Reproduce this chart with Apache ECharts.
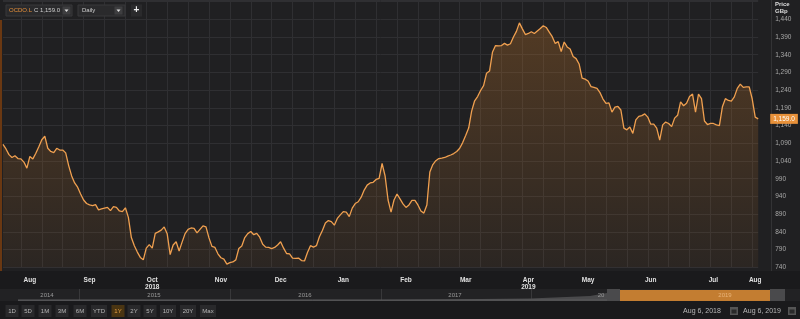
<!DOCTYPE html>
<html><head><meta charset="utf-8">
<script src="https://cdn.jsdelivr.net/npm/echarts@6/dist/echarts.min.js"></script>
<style>html,body{margin:0;padding:0;background:#202022;}#c{width:800px;height:319px;}</style>
</head><body><div id="c"></div>
<script>
// ---- data ----
const startDate = '2018-08-06';
const endDate = '2019-08-06';
const holidays = ['2018-08-27','2018-12-25','2018-12-26','2019-01-01','2019-04-19','2019-04-22','2019-05-06','2019-05-27'];
const prices = [
1087,1074,1058,1050,1055,1047,1046,1037,1020,1053,1046,1062,1080,1100,1110,1076,1067,1064,1076,1071,
1071,1063,1027,998,978,966,947,930,920,916,914,917,902,905,907,909,900,911,909,899,
897,908,881,824,801,783,768,761,794,804,794,836,840,845,854,835,776,803,812,786,
811,835,847,851,850,837,847,857,854,823,799,796,778,767,763,749,753,755,761,793,
800,824,835,841,832,836,825,805,797,796,793,796,803,812,794,779,778,766,765,766,
759,758,782,801,797,801,826,844,865,872,869,859,878,888,897,896,883,907,920,925,
938,958,972,978,980,988,991,1033,998,930,896,930,947,933,919,909,916,929,929,916,
899,893,916,1009,1030,1041,1047,1048,1050,1054,1057,1061,1067,1076,1092,1112,1133,1181,1210,1222,
1239,1253,1288,1294,1348,1366,1365,1366,1372,1367,1371,1390,1406,1430,1413,1397,1400,1405,1400,1407,
1414,1422,1417,1404,1391,1372,1377,1349,1376,1362,1356,1335,1329,1314,1274,1271,1266,1250,1248,1245,
1233,1215,1203,1204,1178,1192,1194,1184,1133,1128,1136,1118,1156,1166,1168,1173,1164,1144,1144,1133,
1099,1142,1150,1146,1137,1161,1169,1207,1196,1203,1222,1229,1178,1229,1216,1153,1143,1146,1146,1142,
1140,1193,1216,1211,1209,1221,1245,1257,1248,1249,1249,1215,1164,1159
];
const yMin = 740, yMax = 1440, yStep = 50;
const monthNames = ['Jan','Feb','Mar','Apr','May','Jun','Jul','Aug','Sep','Oct','Nov','Dec'];
const yearMarks = {'2018-10':'2018','2019-04':'2019'};
const navYears = ['2014','2015','2016','2017','20'];
const navYearX = [47,154,305,455,601];
const rangeButtons = ['1D','5D','1M','3M','6M','YTD','1Y','2Y','5Y','10Y','20Y','Max'];
const rangeButtonX = [12,28,45,62,80,99,118,134,150,168,188,208];
const symbolName = 'OCDO.L';
const lastClose = 1159.0;

// ---- trading-day categories ----
const categories = [];
(function(){
  const d = new Date(startDate + 'T00:00:00Z');
  const end = new Date(endDate + 'T00:00:00Z');
  while (d <= end) {
    const s = d.toISOString().slice(0,10);
    const wd = d.getUTCDay();
    if (wd !== 0 && wd !== 6 && holidays.indexOf(s) < 0) categories.push(s);
    d.setUTCDate(d.getUTCDate() + 1);
  }
})();
// month center labels
const labelAt = {};
(function(){
  let s = 0;
  for (let i = 1; i <= categories.length; i++) {
    if (i === categories.length || categories[i].slice(0,7) !== categories[s].slice(0,7)) {
      const ym = categories[s].slice(0,7);
      const c = Math.ceil((s + i - 1) / 2);
      let lab = monthNames[parseInt(ym.slice(5,7),10)-1];
      if (yearMarks[ym]) lab += '\n' + yearMarks[ym];
      labelAt[c] = lab;
      s = i;
    }
  }
})();

const fmt = v => Math.round(v).toString().replace(/\B(?=(\d{3})+(?!\d))/g, ',');
const fmt1 = v => v.toFixed(1).replace(/\B(?=(\d{3})+(?!\d))/g, ',');
const FONT = 'Liberation Sans, Arial, sans-serif';

const chart = echarts.init(document.getElementById('c'), null, {renderer:'canvas'});

const graphics = [];
// bottom bands
graphics.push({type:'rect', z:-5, silent:true, shape:{x:0,y:271,width:800,height:48}, style:{fill:'#1a1a1c'}});
graphics.push({type:'rect', z:-4, silent:true, shape:{x:0,y:289,width:800,height:12}, style:{fill:'#222224'}});
// left orange edge & right separator
graphics.push({type:'line', z:5, silent:true, shape:{x1:1,y1:20,x2:1,y2:271}, style:{stroke:'#6a3812', lineWidth:2}});
graphics.push({type:'line', z:1, silent:true, shape:{x1:771.5,y1:0,x2:771.5,y2:271}, style:{stroke:'#333335', lineWidth:1}});
// toolbar
graphics.push({type:'rect', z:10, shape:{x:6,y:5,width:66,height:11}, style:{fill:'#2a2a2c', stroke:'#38383a'}});
graphics.push({type:'text', z:11, style:{x:9,y:10.5,text:symbolName,fill:'#e8913a',font:'6px '+FONT,verticalAlign:'middle'}});
graphics.push({type:'text', z:11, style:{x:34,y:10.5,text:'C ' + fmt1(lastClose),fill:'#cfcfcf',font:'6px '+FONT,verticalAlign:'middle'}});
graphics.push({type:'rect', z:11, shape:{x:62.5,y:6.5,width:8,height:8}, style:{fill:'#3e3e40'}});
graphics.push({type:'polygon', z:12, shape:{points:[[64.5,9.5],[68.5,9.5],[66.5,12]]}, style:{fill:'#ddd'}});
graphics.push({type:'rect', z:10, shape:{x:78,y:5,width:47,height:11}, style:{fill:'#2a2a2c', stroke:'#38383a'}});
graphics.push({type:'text', z:11, style:{x:82,y:10.5,text:'Daily',fill:'#cfcfcf',font:'6px '+FONT,verticalAlign:'middle'}});
graphics.push({type:'rect', z:11, shape:{x:114.5,y:6.5,width:8,height:8}, style:{fill:'#3e3e40'}});
graphics.push({type:'polygon', z:12, shape:{points:[[116.5,9.5],[120.5,9.5],[118.5,12]]}, style:{fill:'#ddd'}});
graphics.push({type:'rect', z:10, shape:{x:131,y:4.5,width:11,height:12}, style:{fill:'#2a2a2c'}});
graphics.push({type:'text', z:11, style:{x:136.5,y:10.5,text:'+',fill:'#eee',font:'bold 10px '+FONT,align:'center',verticalAlign:'middle'}});
// axis title
graphics.push({type:'text', z:11, style:{x:775,y:4,text:'Price',fill:'#ddd',font:'bold 6px '+FONT,verticalAlign:'middle'}});
graphics.push({type:'text', z:11, style:{x:775,y:11,text:'GBp',fill:'#ddd',font:'bold 6px '+FONT,verticalAlign:'middle'}});
// navigator
[79,230,381,531].forEach(x => graphics.push({type:'line', z:-3, silent:true, shape:{x1:x+0.5,y1:289,x2:x+0.5,y2:301}, style:{stroke:'#38383a'}}));
graphics.push({type:'polygon', z:-3, silent:true, shape:{points:[[18,300],[380,300],[530,298.5],[590,296],[607,293],[607,301],[18,301]]}, style:{fill:'#4a4a4c'}});
graphics.push({type:'line', z:-2, silent:true, shape:{x1:18,y1:300,x2:607,y2:300}, style:{stroke:'#5a5a5c'}});
navYears.forEach((t,i) => graphics.push({type:'text', z:-1, style:{x:navYearX[i],y:295,text:t,fill:'#9a9a9a',font:'6px '+FONT,align:'center',verticalAlign:'middle'}}));
graphics.push({type:'rect', z:0, shape:{x:607,y:289,width:13,height:12}, style:{fill:'#4a4a4c'}});
graphics.push({type:'rect', z:0, shape:{x:620,y:290,width:150,height:11}, style:{fill:'#c37d31'}});
graphics.push({type:'text', z:1, style:{x:725,y:295.5,text:'2019',fill:'#e9b47a',font:'6px '+FONT,align:'center',verticalAlign:'middle'}});
graphics.push({type:'rect', z:0, shape:{x:770,y:289,width:15,height:12}, style:{fill:'#4a4a4c'}});
// range buttons
rangeButtons.forEach((t,i) => {
  const w = t.length > 2 ? 16 : 13;
  const sel = t === '1Y';
  graphics.push({type:'rect', z:0, shape:{x:rangeButtonX[i]-w/2,y:305,width:w,height:12}, style:{fill: sel ? '#4a3512' : '#29292b'}});
  graphics.push({type:'text', z:1, style:{x:rangeButtonX[i],y:311.5,text:t,fill: sel ? '#e8a043' : '#b8b8b8',font:'6px '+FONT,align:'center',verticalAlign:'middle'}});
});
// date boxes
graphics.push({type:'text', z:1, style:{x:702,y:311.5,text:'Aug 6, 2018',fill:'#b8b8b8',font:'7px '+FONT,align:'center',verticalAlign:'middle'}});
graphics.push({type:'rect', z:0, shape:{x:730,y:307,width:8,height:8}, style:{fill:'#555'}});
graphics.push({type:'rect', z:1, shape:{x:731.5,y:309.5,width:5,height:4}, style:{fill:'#2a2a2a'}});
graphics.push({type:'text', z:1, style:{x:762,y:311.5,text:'Aug 6, 2019',fill:'#b8b8b8',font:'7px '+FONT,align:'center',verticalAlign:'middle'}});
graphics.push({type:'rect', z:0, shape:{x:788,y:307,width:8,height:8}, style:{fill:'#555'}});
graphics.push({type:'rect', z:1, shape:{x:789.5,y:309.5,width:5,height:4}, style:{fill:'#2a2a2a'}});

const topExtra = 1494.5; // axis extends above the top label

chart.setOption({
  backgroundColor: '#202022',
  animation: false,
  grid: {left: 3, right: 41.8, top: 0, bottom: 51.7, containLabel: false},
  xAxis: {
    type: 'category', data: categories, boundaryGap: false,
    axisLine: {show: false}, axisTick: {show: false},
    axisLabel: {
      interval: (i) => labelAt[i] !== undefined,
      formatter: (v, i) => labelAt[i] || '',
      color: '#e0e0e0', fontSize: 6.5, fontWeight: 'bold', fontFamily: FONT,
      margin: 9, lineHeight: 7
    },
    splitLine: {show: true, interval: (i) => (i + 1) % 7 === 0, lineStyle: {color: '#2f2f32', width: 1}}
  },
  yAxis: {
    type: 'value', position: 'right', min: yMin, max: topExtra, interval: yStep,
    axisLine: {show: false}, axisTick: {show: false},
    axisLabel: {
      formatter: v => (v > yMax ? '' : fmt(v)), color: '#a8a8a8', fontSize: 6.5, fontFamily: FONT,
      margin: 17, align: 'left', showMaxLabel: false
    },
    splitLine: {show: true, lineStyle: {color: '#2f2f32', width: 1}}
  },
  series: [{
    type: 'line', data: prices, symbol: 'none', smooth: false,
    lineStyle: {color: '#f0a050', width: 1.3},
    areaStyle: {
      origin: 'start',
      color: new echarts.graphic.LinearGradient(0, 0, 0, 1, [
        {offset: 0, color: 'rgba(190,115,40,0.45)'},
        {offset: 1, color: 'rgba(190,115,40,0.10)'}
      ])
    },
    markLine: {
      silent: true, symbol: ['none','none'], animation: false,
      lineStyle: {color: 'rgba(0,0,0,0)', width: 0.1, type: 'solid'},
      label: {
        show: true, position: 'end', distance: 12,
        formatter: () => fmt1(lastClose),
        backgroundColor: '#e8913a', color: '#ffffff', fontSize: 6.5, fontFamily: FONT,
        padding: [2, 3, 1, 3]
      },
      data: [{yAxis: lastClose}]
    }
  }],
  graphic: graphics
});
</script>
</body></html>
